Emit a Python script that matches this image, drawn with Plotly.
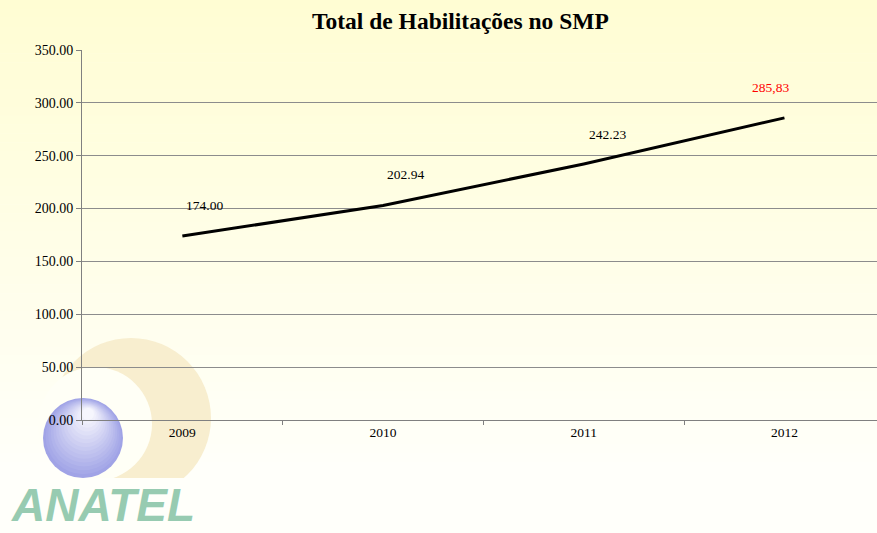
import plotly.graph_objects as go

# ---- data ----
years = ["2009", "2010", "2011", "2012"]
values = [174.00, 202.94, 242.23, 285.83]
value_labels = ["174.00", "202.94", "242.23", "285,83"]
y_ticks = [0, 50, 100, 150, 200, 250, 300, 350]
y_tick_labels = ["0.00", "50.00", "100.00", "150.00", "200.00", "250.00", "300.00", "350.00"]
title_text = "Total de Habilitações no SMP"
logo_text = "ANATEL"

# ---- layout geometry (pixels) ----
W, H = 877, 533
L, R, T, B = 82, 877, 50, 420


def px(x):
    return (x - L) / (R - L)


def py(y):
    return (B - y) / (B - T)


fig = go.Figure()

fig.add_trace(go.Scatter(
    x=years, y=values, mode="lines",
    line=dict(color="#000000", width=3),
    hoverinfo="skip", showlegend=False,
))

shapes = []
# background gradient
n = 60
top = (255, 253, 211)
bot = (255, 255, 250)


def bg_at(y):
    t = min(1.0, y / 470)
    return tuple(round(top[k] + (bot[k] - top[k]) * t) for k in range(3))


for i in range(n):
    y0 = H * i / n
    y1 = H * (i + 1) / n
    c = bg_at((y0 + y1) / 2)
    shapes.append(dict(type="rect", xref="paper", yref="paper",
                       x0=px(-10), x1=px(W + 10), y0=py(y1 + 0.5), y1=py(y0),
                       fillcolor="rgb(%d,%d,%d)" % c, line=dict(width=0), layer="below"))


def circle(cx, cy, r, color, layer="below"):
    return dict(type="circle", xref="paper", yref="paper",
                x0=px(cx - r), x1=px(cx + r), y0=py(cy + r), y1=py(cy - r),
                fillcolor=color, line=dict(width=0), layer=layer)


# logo crescent: outer beige circle minus inner background circle, clipped at bottom
shapes.append(circle(131, 418, 80, "#F8EECF"))
shapes.append(circle(95, 424, 57, "rgb(%d,%d,%d)" % bg_at(424)))
shapes.append(dict(type="rect", xref="paper", yref="paper",
                   x0=px(30), x1=px(225), y0=py(505), y1=py(478),
                   fillcolor="rgb(%d,%d,%d)" % bg_at(490), line=dict(width=0), layer="below"))

# sphere with soft light gradient (dark lavender edge -> near white highlight)
n_s = 16
c_edge = (160, 163, 230)
c_high = (246, 246, 253)
for k in range(n_s):
    t = k / (n_s - 1)
    r = 40 * (1 - 0.85 * t)
    cx = 83 + 5 * t
    cy = 438 - 24 * t
    col = tuple(round(c_edge[j] + (c_high[j] - c_edge[j]) * t) for j in range(3))
    shapes.append(circle(cx, cy, r, "rgb(%d,%d,%d)" % col, layer="below"))

annotations = []
offsets = [(22, 31), (22, 31), (24, 29), (-14, 30)]
colors = ["#000000", "#000000", "#000000", "#FF0000"]
for i, (v, lab, (dx, dy), col) in enumerate(zip(values, value_labels, offsets, colors)):
    annotations.append(dict(x=i, y=v, xref="x", yref="y", text=lab, showarrow=False,
                            xshift=dx, yshift=dy,
                            font=dict(family="Liberation Serif", size=13.5, color=col)))

annotations.append(dict(x=px(460), y=py(21), xref="paper", yref="paper", text="<b>" + title_text + "</b>",
                        showarrow=False, xanchor="center", yanchor="middle",
                        font=dict(family="Liberation Serif", size=23.5, color="#000000")))

annotations.append(dict(x=px(9), y=py(505), xref="paper", yref="paper",
                        text="<b><i>" + logo_text + "</i></b>", showarrow=False,
                        xanchor="left", yanchor="middle",
                        font=dict(family="Liberation Sans", size=46, color="#97CBB1")))

fig.update_layout(
    width=W, height=H,
    margin=dict(l=L, r=W - R, t=T, b=H - B, pad=0),
    paper_bgcolor="#FFFFFA",
    plot_bgcolor="rgba(0,0,0,0)",
    shapes=shapes,
    annotations=annotations,
    showlegend=False,
    xaxis=dict(
        type="category", range=[-0.5, -0.5 + (R - L) / 200.7],
        showgrid=False, showline=True, linecolor="#808080", linewidth=1,
        ticks="outside", tickson="boundaries", ticklen=4, tickcolor="#808080",
        tickfont=dict(family="Liberation Serif", size=13.5, color="#000000"),
        zeroline=False, fixedrange=True,
    ),
    yaxis=dict(
        range=[0, 350], tickvals=y_ticks, ticktext=y_tick_labels,
        showgrid=True, gridcolor="#8C8C8C", gridwidth=1,
        showline=True, linecolor="#808080", linewidth=1,
        ticks="outside", ticklen=5, tickcolor="#808080",
        tickfont=dict(family="Liberation Serif", size=14, color="#000000"),
        zeroline=False, fixedrange=True,
    ),
)

fig.write_html("out.html", config={"displayModeBar": False},
               post_script="document.body.style.margin='0';document.body.style.overflow='hidden';")
